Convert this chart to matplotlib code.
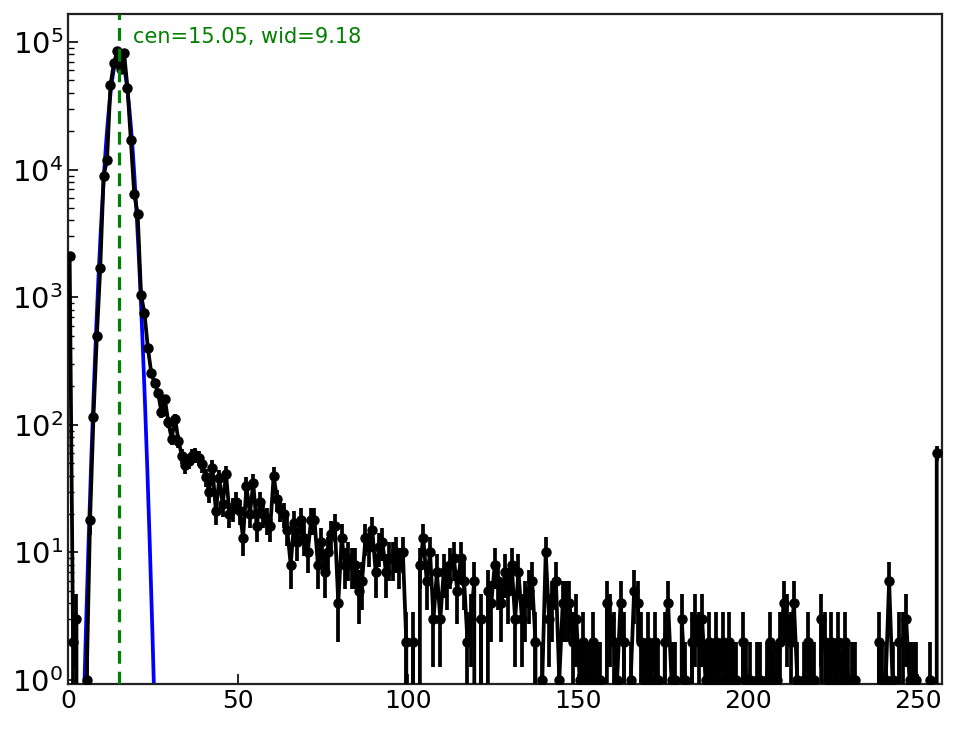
import numpy as np
import matplotlib.pyplot as plt

# conteos por canal (0..255)
conteos = [
    2100, 2, 3, 0, 0, 1, 18, 115, 500, 1700,
    9000, 12000, 46000, 68000, 85000, 61000, 82000, 44000, 17000, 6400,
    4500, 1040, 750, 400, 255, 212, 178, 125, 160, 105,
    78, 112, 75, 57, 48, 52, 57, 58, 55, 49,
    39, 30, 46, 21, 38, 24, 41, 20, 22, 25,
    21, 13, 33, 20, 35, 16, 25, 20, 18, 16,
    40, 26, 22, 20, 15, 8, 17, 12, 18, 13,
    10, 18, 18, 8, 12, 7, 10, 14, 16, 4,
    13, 8, 9, 8, 8, 5, 6, 13, 11, 15,
    7, 11, 12, 7, 9, 9, 10, 8, 10, 2,
    0, 2, 0, 8, 13, 6, 10, 3, 7, 3,
    7, 6, 8, 9, 5, 9, 6, 2, 3, 6,
    0, 3, 0, 5, 4, 8, 6, 4, 7, 5,
    8, 3, 7, 3, 4, 5, 6, 2, 0, 1,
    10, 3, 4, 6, 1, 4, 4, 4, 2, 3,
    1, 2, 1, 1, 2, 1, 1, 0, 4, 3,
    2, 1, 4, 2, 0, 1, 5, 4, 2, 1,
    2, 1, 2, 1, 0, 2, 4, 1, 1, 0,
    3, 1, 0, 2, 3, 2, 3, 1, 2, 1,
    2, 1, 2, 1, 2, 1, 1, 0, 2, 1,
    1, 0, 1, 1, 0, 1, 2, 1, 1, 2,
    4, 3, 2, 4, 1, 0, 1, 2, 1, 1,
    0, 3, 2, 1, 2, 1, 2, 1, 2, 1,
    1, 1, 0, 0, 0, 0, 0, 0, 2, 1,
    1, 6, 1, 0, 2, 2, 3, 1, 1, 1,
    0, 0, 0, 1, 0, 60,
]
conteos = np.array(conteos, dtype=float)
canales = np.arange(len(conteos)) + 0.5
errores = np.sqrt(conteos)

# parámetros del ajuste
cen = 15.05
wid = 9.18
amp = 8.0e4

xg = np.linspace(0, 40, 2000)
yg = amp * np.exp(-(xg - cen) ** 2 / wid)

fig = plt.figure(figsize=(9.64, 7.29), dpi=100)
ax = fig.add_axes([0.0705, 0.0617, 0.9065, 0.9191])

ax.plot(xg, yg, color='blue', lw=2.7, zorder=2)
ax.errorbar(canales, conteos, yerr=errores, fmt='-o', color='black',
            lw=2.7, elinewidth=2.7, ms=6.5, capsize=0, zorder=3)
ax.axvline(cen, color='green', ls='--', lw=2.3, dashes=(4, 2.5), zorder=4)
ax.text(cen + 4, 1.09e5, 'cen=%.2f, wid=%.2f' % (cen, wid),
        color='green', fontsize=15, va='center', ha='left')

ax.set_yscale('log')
ax.set_xlim(0, 257)
ax.set_ylim(0.93, 1.66e5)
ax.tick_params(which='both', direction='in', top=False, right=False)
ax.tick_params(axis='x', labelsize=18)
ax.tick_params(axis='y', labelsize=21)
ax.tick_params(which='major', length=7, width=1.2)
ax.tick_params(which='minor', length=4, width=1)
for s in ax.spines.values():
    s.set_linewidth(1.6)
    s.set_color('#222222')

fig.savefig('out.png', dpi=100)
